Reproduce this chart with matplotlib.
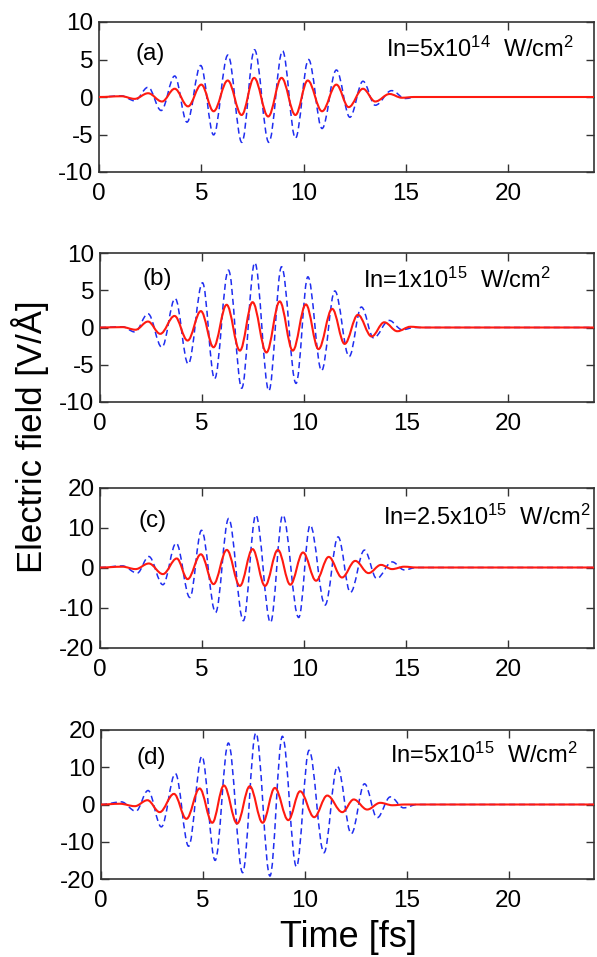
import matplotlib
matplotlib.use('Agg')
import matplotlib.pyplot as plt
from matplotlib.path import Path
from matplotlib.patches import PathPatch

plt.rcParams['font.family'] = ['Liberation Sans', 'DejaVu Sans']
plt.rcParams['mathtext.fontset'] = 'custom'
plt.rcParams['mathtext.rm'] = 'Liberation Sans'
plt.rcParams['mathtext.it'] = 'Liberation Sans'
plt.rcParams['axes.unicode_minus'] = False

# ---------------- data: extrema of the field (time in fs, field in V/Å) ----------------
panel_labels = ['(a)', '(b)', '(c)', '(d)']
intensity_labels = ['In=5x10$^{14}$  W/cm$^{2}$', 'In=1x10$^{15}$  W/cm$^{2}$',
                    'In=2.5x10$^{15}$  W/cm$^{2}$', 'In=5x10$^{15}$  W/cm$^{2}$']
y_limits = [10, 10, 20, 20]
y_ticks_a = [-10, -5, 0, 5, 10]
y_ticks_c = [-20, -10, 0, 10, 20]
x_ticks = [0, 5, 10, 15, 20]
t_max = 24.19

t_blue_a = [0, 1.1, 1.74, 2.4, 3.04, 3.7, 4.3, 4.97, 5.6, 6.3, 6.98, 7.6, 8.3, 8.97, 9.6, 10.24, 10.9, 11.6, 12.26, 12.9, 13.5, 14.3, 14.97, 15.5, 24.19]
e_blue_a = [0, 0.15, -0.5, 1.3, -1.8, 2.8, -3.35, 4.2, -5.05, 5.6, -6.05, 6.3, -6.05, 6.15, -5.5, 5.0, -4.2, 3.6, -2.7, 2.1, -1.1, 0.85, -0.2, 0, 0]
t_red_a = [0, 1.1, 1.74, 2.4, 3.08, 3.7, 4.35, 5.0, 5.6, 6.29, 6.97, 7.58, 8.27, 8.92, 9.6, 10.2, 10.9, 11.6, 12.2, 12.9, 13.5, 14.2, 14.8, 15.4, 24.19]
e_red_a = [0, 0.1, -0.25, 0.5, -0.6, 1.1, -1.25, 1.65, -1.9, 2.2, -2.4, 2.55, -2.6, 2.55, -2.4, 2.2, -1.9, 1.65, -1.35, 1.1, -0.6, 0.4, -0.1, 0, 0]

t_blue_b = [0, 1.1, 1.71, 2.35, 3.03, 3.68, 4.32, 5.02, 5.61, 6.29, 6.94, 7.58, 8.27, 8.89, 9.6, 10.18, 10.85, 11.5, 12.2, 12.8, 13.4, 14.16, 14.8, 15.4, 24.19]
e_blue_b = [0, 0.1, -0.6, 1.85, -2.65, 3.9, -4.9, 6.0, -6.9, 7.7, -8.15, 8.7, -8.5, 8.15, -7.5, 6.8, -5.8, 4.9, -3.9, 2.75, -1.4, 0.95, -0.3, 0, 0]
t_red_b = [0, 1.1, 1.74, 2.35, 2.95, 3.65, 4.29, 4.94, 5.56, 6.2, 6.85, 7.47, 8.15, 8.8, 9.44, 10.08, 10.7, 11.37, 11.98, 12.63, 13.3, 13.92, 14.56, 15.2, 15.8, 24.19]
e_red_b = [0, 0.05, -0.3, 0.8, -0.85, 1.55, -1.75, 2.2, -2.65, 3.05, -3.1, 3.4, -3.35, 3.5, -3.1, 3.1, -2.9, 2.5, -2.2, 1.7, -1.2, 0.7, -0.5, 0.1, 0, 0]

t_blue_c = [0, 1.1, 1.82, 2.39, 3.08, 3.73, 4.4, 4.97, 5.66, 6.3, 7.02, 7.63, 8.35, 8.95, 9.73, 10.29, 11.02, 11.66, 12.26, 12.95, 13.55, 14.3, 14.9, 15.5, 24.19]
e_blue_c = [0, 0.4, -1.4, 2.75, -4.3, 6.1, -7.5, 9.3, -11.25, 12.25, -13.3, 13.1, -13.75, 13.1, -12.5, 10.6, -9.4, 7.65, -6.25, 4.35, -2.75, 1.4, -0.6, 0, 0]
t_red_c = [0, 1.1, 1.74, 2.39, 3.08, 3.76, 4.29, 4.94, 5.56, 6.21, 6.85, 7.47, 8.08, 8.71, 9.32, 9.94, 10.58, 11.2, 11.85, 12.5, 13.15, 13.76, 14.3, 14.9, 15.5, 24.19]
e_red_c = [0, 0.2, -0.4, 1.0, -1.65, 2.25, -2.9, 3.3, -4.15, 4.4, -4.6, 4.6, -4.6, 4.4, -4.3, 3.75, -3.3, 2.65, -2.5, 1.65, -1.4, 0.65, -0.4, 0.2, 0, 0]

t_blue_d = [0, 1.0, 1.71, 2.31, 2.96, 3.65, 4.3, 4.95, 5.6, 6.25, 6.95, 7.6, 8.29, 8.9, 9.59, 10.21, 10.94, 11.6, 12.28, 12.93, 13.55, 14.2, 14.85, 15.5, 24.19]
e_blue_d = [0, 0.7, -1.8, 3.75, -6.0, 8.3, -11.2, 12.95, -15.0, 16.5, -18.3, 19.2, -19.2, 18.3, -16.7, 14.55, -12.95, 10.25, -7.85, 5.55, -3.55, 2.05, -0.9, 0, 0]
t_red_d = [0, 0.93, 1.66, 2.28, 2.88, 3.58, 4.19, 4.84, 5.46, 6.03, 6.68, 7.3, 7.93, 8.53, 9.19, 9.77, 10.46, 11.1, 11.84, 12.4, 13.06, 13.7, 14.3, 14.9, 24.19]
e_red_d = [0, 0.2, -0.45, 1.15, -2.05, 2.85, -3.85, 4.3, -4.9, 5.1, -5.1, 4.9, -4.9, 4.45, -4.2, 3.55, -3.4, 2.4, -2.05, 1.35, -1.35, 0.45, -0.2, 0, 0]

blue_t = [t_blue_a, t_blue_b, t_blue_c, t_blue_d]
blue_e = [e_blue_a, e_blue_b, e_blue_c, e_blue_d]
red_t = [t_red_a, t_red_b, t_red_c, t_red_d]
red_e = [e_red_a, e_red_b, e_red_c, e_red_d]

# ---------------- drawing ----------------
def smooth_path(t, y, c=0.364):
    """Cubic Bezier through the extrema with horizontal tangents."""
    verts = [(t[0], y[0])]
    codes = [Path.MOVETO]
    for i in range(len(t) - 1):
        h = t[i + 1] - t[i]
        verts += [(t[i] + c * h, y[i]), (t[i + 1] - c * h, y[i + 1]), (t[i + 1], y[i + 1])]
        codes += [Path.CURVE4] * 3
    return Path(verts, codes)

W, H = 597, 957
fig = plt.figure(figsize=(W / 100, H / 100), dpi=100)

# axes boxes in pixels: (left, top, right, bottom)
boxes = [(99, 22, 594, 172), (100, 253, 594, 402), (100, 487.5, 594, 647.5), (101, 730, 594, 879)]
label_pos = [(0.073, 0.749), (0.087, 0.785), (0.077, 0.755), (0.071, 0.774)]
inten_x = [386, 363, 383, 390]
inten_y = [0.769, 0.765, 0.766, 0.778]

spine_col = '#333333'
for k in range(4):
    l, tp, r, b = boxes[k]
    ax = fig.add_axes([l / W, 1 - b / H, (r - l) / W, (b - tp) / H])
    ax.add_patch(PathPatch(smooth_path(blue_t[k], blue_e[k]), fill=False,
                           edgecolor='#1f2df0', lw=1.1, linestyle=(0, (4, 2.5)), zorder=2))
    ax.add_patch(PathPatch(smooth_path(red_t[k], red_e[k]), fill=False,
                           edgecolor='#ff1a10', lw=1.5, zorder=3))
    ylim = y_limits[k]
    ax.set_xlim(0, t_max)
    ax.set_ylim(-ylim, ylim)
    ax.set_xticks(x_ticks)
    ax.set_yticks(y_ticks_a if ylim == 10 else y_ticks_c)
    ax.tick_params(direction='in', length=6, width=1.0, color=spine_col,
                   top=True, right=True, labelsize=17.5)
    ax.tick_params(axis='x', pad=8)
    ax.tick_params(axis='y', pad=4)
    for s in ax.spines.values():
        s.set_color(spine_col)
        s.set_linewidth(1.2)
    ax.text(label_pos[k][0], label_pos[k][1], panel_labels[k], transform=ax.transAxes,
            fontsize=17.5, va='baseline', ha='left')
    ax.text((inten_x[k] - l) / (r - l), inten_y[k], intensity_labels[k], transform=ax.transAxes,
            fontsize=17, va='baseline', ha='left')

fig.text(349 / W, 1 - 947 / H, 'Time [fs]', fontsize=26, ha='center', va='baseline')
fig.text(30 / W, 1 - 437 / H, 'Electric field [V/Å]', fontsize=25, ha='center', va='center',
         rotation=90)

fig.savefig('out.png', dpi=100)
